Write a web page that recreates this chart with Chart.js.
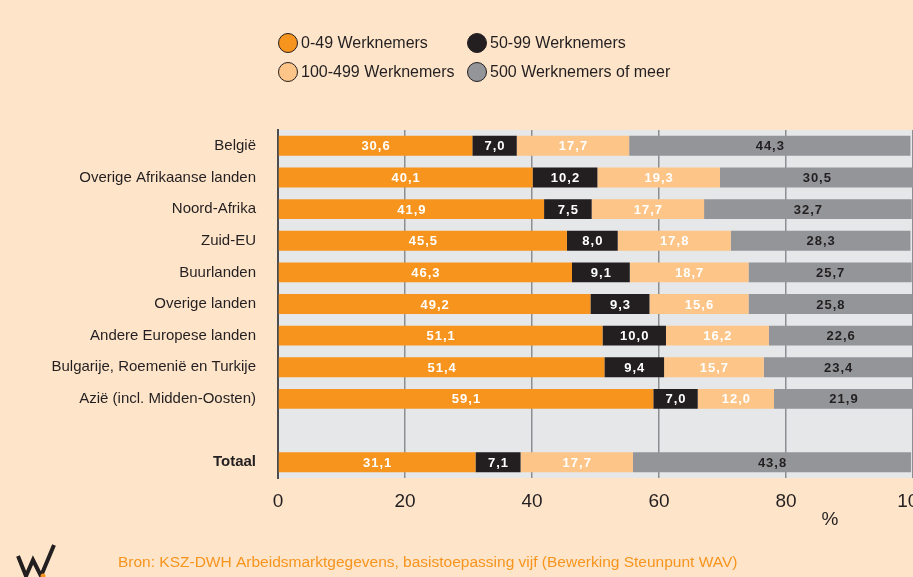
<!DOCTYPE html>
<html>
<head>
<meta charset="utf-8">
<script src="https://cdn.jsdelivr.net/npm/chart.js@4/dist/chart.umd.min.js"></script>
<style>
  html, body { margin: 0; padding: 0; overflow: hidden; background: #fee5ca; }
  #wrap { width: 913px; height: 577px; overflow: hidden; }
</style>
</head>
<body>
<div id="wrap"><canvas id="sizeChart" width="960" height="577"></canvas></div>
<script>
// categories, top to bottom (empty one is the gap before Totaal)
const categories = [
    "België",
    "Overige Afrikaanse landen",
    "Noord-Afrika",
    "Zuid-EU",
    "Buurlanden",
    "Overige landen",
    "Andere Europese landen",
    "Bulgarije, Roemenië en Turkije",
    "Azië (incl. Midden-Oosten)",
    "",
    "Totaal"
];
const seriesNames = ["0-49 Werknemers", "50-99 Werknemers", "100-499 Werknemers", "500 Werknemers of meer"];
const small = [30.6, 40.1, 41.9, 45.5, 46.3, 49.2, 51.1, 51.4, 59.1, null, 31.1];
const medium = [7.0, 10.2, 7.5, 8.0, 9.1, 9.3, 10.0, 9.4, 7.0, null, 7.1];
const large = [17.7, 19.3, 17.7, 17.8, 18.7, 15.6, 16.2, 15.7, 12.0, null, 17.7];
const veryLarge = [44.3, 30.5, 32.7, 28.3, 25.7, 25.8, 22.6, 23.4, 21.9, null, 43.8];
const xTicks = [0, 20, 40, 60, 80, 100];

const colors = ["#f7941d", "#231f20", "#fdc588", "#939598"];
const fontName = "'Liberation Sans', Arial, sans-serif";

const backgroundPlugin = {
    id: "background",
    beforeDraw(chart) {
        const { ctx, chartArea } = chart;
        ctx.save();
        ctx.fillStyle = "#fee5ca";
        ctx.fillRect(0, 0, chart.width, chart.height);
        ctx.fillStyle = "#e6e7e8";
        ctx.fillRect(chartArea.left, chartArea.top, chartArea.right - chartArea.left, chartArea.bottom - chartArea.top);
        ctx.restore();
    }
};

const valueLabels = {
    id: "valueLabels",
    afterDatasetsDraw(chart) {
        const ctx = chart.ctx;
        ctx.save();
        ctx.font = "bold 13px " + fontName;
        ctx.letterSpacing = "1px";
        ctx.textAlign = "center";
        ctx.textBaseline = "middle";
        chart.data.datasets.forEach(function (ds, i) {
            const meta = chart.getDatasetMeta(i);
            meta.data.forEach(function (bar, j) {
                const v = ds.data[j];
                if (v === null) return;
                ctx.fillStyle = i === 3 ? "#231f20" : "#ffffff";
                ctx.fillText(v.toFixed(1).replace(".", ","), (bar.x + bar.base) / 2 + 0.5, bar.y + 1);
            });
        });
        ctx.letterSpacing = "0px";
        ctx.restore();
    }
};

const extras = {
    id: "extras",
    afterDraw(chart) {
        const ctx = chart.ctx;
        ctx.save();
        ctx.letterSpacing = "0px";
        // legend in two rows
        const spots = [[288, 43], [477, 43], [288, 72], [477, 72]];
        ctx.font = "16px " + fontName;
        ctx.textBaseline = "middle";
        ctx.textAlign = "left";
        chart.data.datasets.forEach(function (ds, i) {
            const [cx, cy] = spots[i];
            ctx.beginPath();
            ctx.arc(cx, cy, 9.5, 0, Math.PI * 2);
            ctx.fillStyle = ds.backgroundColor;
            ctx.fill();
            ctx.lineWidth = 1;
            ctx.strokeStyle = "#231f20";
            ctx.stroke();
            ctx.fillStyle = "#231f20";
            ctx.fillText(ds.label, cx + 13, cy + 1);
        });

        // axis unit
        ctx.font = "19px " + fontName;
        ctx.textAlign = "center";
        ctx.fillText("%", 830, 520);

        // source line
        ctx.font = "15.5px " + fontName;
        ctx.textAlign = "left";
        ctx.fillStyle = "#f7941d";
        ctx.fillText("Bron: KSZ-DWH Arbeidsmarktgegevens, basistoepassing vijf (Bewerking Steunpunt WAV)", 118, 563);

        // little logo
        ctx.strokeStyle = "#231f20";
        ctx.lineWidth = 4;
        ctx.lineJoin = "miter";
        ctx.beginPath();
        ctx.moveTo(18, 556);
        ctx.lineTo(26, 576);
        ctx.lineTo(33, 560);
        ctx.lineTo(41, 576);
        ctx.lineTo(54, 545);
        ctx.stroke();
        ctx.fillStyle = "#f7941d";
        ctx.beginPath();
        ctx.arc(43, 576, 2.5, 0, Math.PI * 2);
        ctx.fill();
        ctx.restore();
    }
};

const seriesData = [small, medium, large, veryLarge];

new Chart(document.getElementById("sizeChart"), {
    type: "bar",
    data: {
        labels: categories,
        datasets: seriesData.map(function (values, i) {
            return {
                label: seriesNames[i],
                data: values,
                backgroundColor: colors[i],
                borderWidth: 0,
                categoryPercentage: 1,
                barPercentage: 0.63
            };
        })
    },
    options: {
        indexAxis: "y",
        responsive: false,
        animation: false,
        layout: {
            padding: { top: 130, right: 47, left: 0, bottom: 0 }
        },
        plugins: {
            legend: { display: false },
            tooltip: { enabled: false }
        },
        scales: {
            x: {
                stacked: true,
                min: 0,
                max: 100,
                afterFit: function (scale) { scale.height = 99; },
                afterBuildTicks: function (scale) {
                    scale.ticks = xTicks.map(function (v) { return { value: v }; });
                },
                border: { display: false },
                grid: {
                    color: function (ctx) { return ctx.tick && ctx.tick.value === 0 ? "rgba(0,0,0,0)" : "#8c8e91"; },
                    lineWidth: 1.5,
                    drawTicks: false
                },
                ticks: {
                    padding: 12,
                    color: "#231f20",
                    font: { family: fontName, size: 19 }
                }
            },
            y: {
                stacked: true,
                afterFit: function (scale) { scale.width = 278; },
                border: { display: true, color: "#4d4d4f", width: 2 },
                grid: { display: false, drawTicks: false },
                ticks: {
                    padding: 22,
                    color: "#231f20",
                    font: function (ctx) {
                        return {
                            family: fontName,
                            size: 15,
                            weight: ctx.index === categories.length - 1 ? "bold" : "normal"
                        };
                    }
                }
            }
        }
    },
    plugins: [backgroundPlugin, valueLabels, extras]
});
</script>
</body>
</html>
